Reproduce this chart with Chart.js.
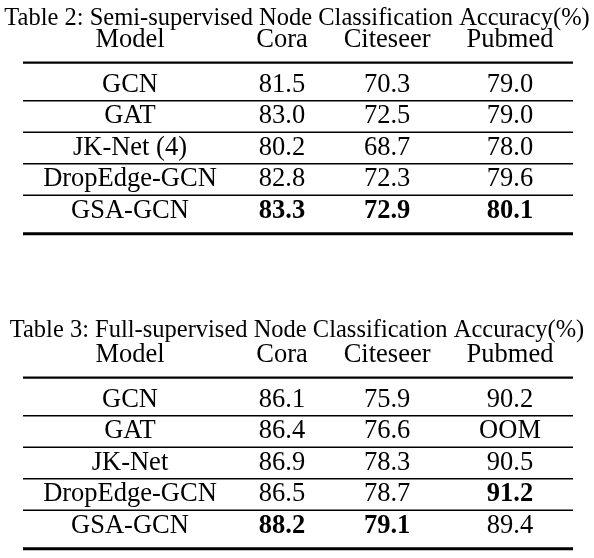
<!DOCTYPE html>
<html>
<head>
<meta charset="utf-8">
<script src="https://cdn.jsdelivr.net/npm/chart.js@4"></script>
<style>
  html, body { margin: 0; padding: 0; background: #fff; }
  canvas { display: block; }
</style>
</head>
<body>
<canvas id="tableSemi" width="594" height="279"></canvas>
<canvas id="tableFull" width="594" height="279"></canvas>
<script>
// column headers
var columns = ['Model', 'Cora', 'Citeseer', 'Pubmed'];

// Table 2 : semi-supervised
var titleSemi = 'Table 2: Semi-supervised Node Classification Accuracy(%)';
var modelsSemi = ['GCN', 'GAT', 'JK-Net (4)', 'DropEdge-GCN', 'GSA-GCN'];
var coraSemi = [81.5, 83.0, 80.2, 82.8, 83.3];
var citeseerSemi = [70.3, 72.5, 68.7, 72.3, 72.9];
var pubmedSemi = [79.0, 79.0, 78.0, 79.6, 80.1];

// Table 3 : full-supervised (null = OOM)
var titleFull = 'Table 3: Full-supervised Node Classification Accuracy(%)';
var modelsFull = ['GCN', 'GAT', 'JK-Net', 'DropEdge-GCN', 'GSA-GCN'];
var coraFull = [86.1, 86.4, 86.9, 86.5, 88.2];
var citeseerFull = [75.9, 76.6, 78.3, 78.7, 79.1];
var pubmedFull = [90.2, null, 90.5, 91.2, 89.4];
var missingText = 'OOM';

// layout (table units: x 0..1 across the rules, y = row number)
var colPos = [0.1945, 0.471, 0.662, 0.8855];
var headerRow = -0.42;
var rules = [
  { y: 0.29, w: 2.4 },
  { y: 1.5, w: 1.3 },
  { y: 2.5, w: 1.3 },
  { y: 3.5, w: 1.3 },
  { y: 4.5, w: 1.3 },
  { y: 5.72, w: 3 }
];
var textSize = 26.5;
var fontName = '"Liberation Serif", "Times New Roman", serif';

// draws the text of every cell at the point the scales give it
var cellTextPlugin = {
  id: 'cellText',
  afterDatasetsDraw: function (chart) {
    var ctx = chart.ctx;
    ctx.save();
    ctx.fillStyle = '#000';
    ctx.textAlign = 'center';
    ctx.textBaseline = 'middle';
    chart.data.datasets.forEach(function (ds, di) {
      if (!ds.cells) return;
      var meta = chart.getDatasetMeta(di);
      meta.data.forEach(function (pt, i) {
        var cell = ds.cells[i];
        ctx.font = (cell.bold ? 'bold ' : '') + textSize + 'px ' + fontName;
        ctx.fillText(cell.text, pt.x, pt.y);
      });
    });
    ctx.restore();
  }
};

function makeTable(canvasId, title, models, valueCols, titleTop, yMin) {
  var datasets = [];

  // horizontal rules
  rules.forEach(function (r) {
    datasets.push({
      type: 'line',
      data: [{ x: 0, y: r.y }, { x: 1, y: r.y }],
      borderColor: '#000',
      borderWidth: r.w,
      pointRadius: 0,
      showLine: true
    });
  });

  // header row
  datasets.push({
    data: columns.map(function (c, j) { return { x: colPos[j], y: headerRow }; }),
    cells: columns.map(function (c) { return { text: c, bold: false }; }),
    pointRadius: 0
  });

  // model names
  datasets.push({
    data: models.map(function (m, i) { return { x: colPos[0], y: i + 1 }; }),
    cells: models.map(function (m) { return { text: m, bold: false }; }),
    pointRadius: 0
  });

  // value columns, best of each column in bold
  valueCols.forEach(function (vals, j) {
    var best = Math.max.apply(null, vals.filter(function (v) { return v !== null; }));
    datasets.push({
      data: vals.map(function (v, i) { return { x: colPos[j + 1], y: i + 1 }; }),
      cells: vals.map(function (v) {
        return v === null ? { text: missingText, bold: false } : { text: v.toFixed(1), bold: v === best };
      }),
      pointRadius: 0
    });
  });

  var titleSize = 24.5;
  var areaTop = titleTop + titleSize * 1.2;
  var rowPx = 31.5;

  new Chart(document.getElementById(canvasId), {
    type: 'scatter',
    data: { datasets: datasets },
    options: {
      responsive: false,
      animation: false,
      events: [],
      layout: { padding: 0 },
      plugins: {
        legend: { display: false },
        tooltip: { enabled: false },
        title: {
          display: true,
          text: title,
          color: '#000',
          font: { family: fontName, size: titleSize, weight: 'normal' },
          padding: { top: titleTop, bottom: 0 }
        }
      },
      scales: {
        x: { type: 'linear', display: false, min: -23 / 550, max: 1 + 21 / 550 },
        y: { type: 'linear', display: false, reverse: true, min: yMin, max: yMin + (279 - areaTop) / rowPx }
      }
    },
    plugins: [cellTextPlugin]
  });
}

makeTable('tableSemi', titleSemi, modelsSemi, [coraSemi, citeseerSemi, pubmedSemi], 4, -0.638);
makeTable('tableFull', titleFull, modelsFull, [coraFull, citeseerFull, pubmedFull], 37.3, -0.724);
</script>
</body>
</html>
